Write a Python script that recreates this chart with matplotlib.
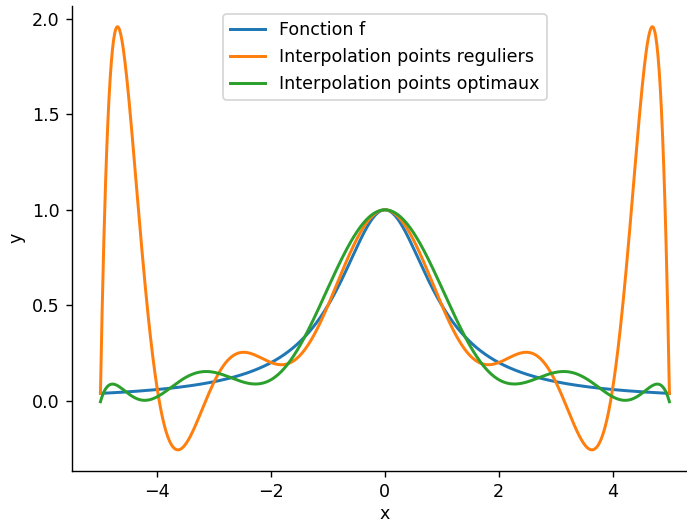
import numpy as np
import matplotlib
matplotlib.use("Agg")
import matplotlib.pyplot as plt

# noeuds d'interpolation (11 points) et valeurs de f aux noeuds
x_reguliers = [-5.0, -4.0, -3.0, -2.0, -1.0, 0.0, 1.0, 2.0, 3.0, 4.0, 5.0]
y_reguliers = [0.03846, 0.05882, 0.1, 0.2, 0.5, 1.0, 0.5, 0.2, 0.1, 0.05882, 0.03846]

x_optimaux = [-4.9491, -4.5482, -3.7787, -2.7032, -1.4087, 0.0,
              1.4087, 2.7032, 3.7787, 4.5482, 4.9491]
y_optimaux = [0.03922, 0.04611, 0.06545, 0.12037, 0.33508, 1.0,
              0.33508, 0.12037, 0.06545, 0.04611, 0.03922]

labels = ["Fonction f", "Interpolation points reguliers", "Interpolation points optimaux"]


def f(x):
    return 1 / (1 + x ** 2)


x = np.linspace(-5, 5, 1000)
# polynome de Lagrange de degre 10 passant par les noeuds
p_reg = np.polyfit(x_reguliers, y_reguliers, len(x_reguliers) - 1)
p_opt = np.polyfit(x_optimaux, y_optimaux, len(x_optimaux) - 1)

fig = plt.figure(figsize=(687 / 126, 522 / 126), dpi=126)
ax = fig.add_axes([0.1048, 0.0977, 0.911, 0.8916])
ax.plot(x, f(x), label=labels[0], linewidth=1.7)
ax.plot(x, np.polyval(p_reg, x), label=labels[1], linewidth=1.7)
ax.plot(x, np.polyval(p_opt, x), label=labels[2], linewidth=1.7)
ax.spines['top'].set_visible(False)
ax.spines['right'].set_visible(False)
ax.set_xlabel('x', labelpad=2)
ax.set_ylabel('y')
ax.legend(loc='upper center')

fig.savefig('out.png', dpi=126)
